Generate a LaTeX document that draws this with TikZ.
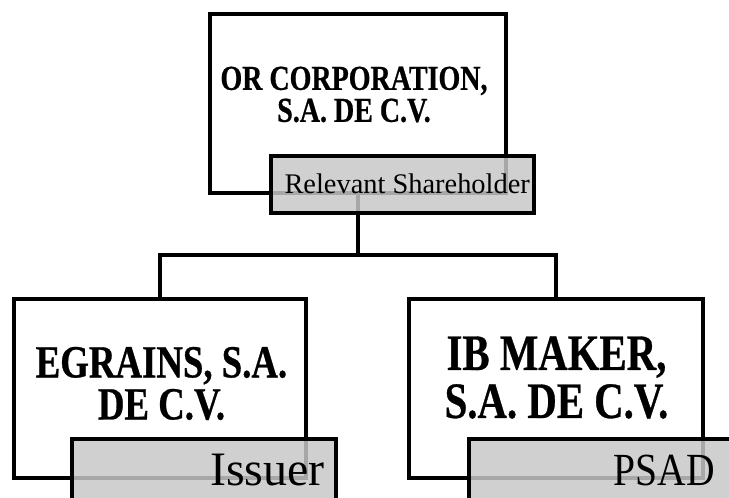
\documentclass[tikz,border=0pt]{standalone}
\usepackage{fontspec}
\newfontfamily\namefont[FakeStretch=0.8,BoldFeatures={FakeBold=0.6}]{Liberation Serif}
\newfontfamily\narrowfont[FakeStretch=0.86]{Liberation Serif}
\newfontfamily\rolefont{Liberation Serif}
\begin{document}
\begin{tikzpicture}[x=1pt,y=-1pt,
  entity/.style={draw=black,line width=4pt,fill=white,inner sep=0pt,line join=miter},
  rolebox/.style={draw=black,line width=4pt,fill=black!22,fill opacity=0.84,draw opacity=1,inner sep=0pt},
  wire/.style={draw=black,line width=4pt,line join=miter},
  nametext/.style={inner sep=0pt,align=center,text=black},
  roletext/.style={inner sep=0pt,anchor=base east,text=black}]
\useasboundingbox (0,0) rectangle (729,498);
\clip (0,0) rectangle (729,498);

% company boxes
\node[entity,minimum width=296pt,minimum height=179pt] (top) at (358,103.5) {};
\node[entity,minimum width=292pt,minimum height=179pt] (left) at (160,388.5) {};
\node[entity,minimum width=294pt,minimum height=179pt] (right) at (556,388.5) {};

% ownership lines
\coordinate (bus) at (358,255);
\draw[wire] (top.south) -- (bus) -| (left.north);
\draw[wire] (bus) -| (right.north);

% redraw the boxes over the line ends
\node[entity,minimum width=292pt,minimum height=179pt] at (left) {};
\node[entity,minimum width=294pt,minimum height=179pt] at (right) {};

% company names
\node[nametext,font=\namefont\bfseries\fontsize{35}{32}\selectfont] (topname) at (354,94.5)
  {OR CORPORATION,\\S.A. DE C.V.};
\node[nametext,font=\namefont\bfseries\fontsize{46}{42}\selectfont] (leftname) at (161.5,383.5)
  {EGRAINS, S.A.\\DE C.V.};
\node[nametext,font=\namefont\bfseries\fontsize{51}{48}\selectfont] (rightname) at (556.5,377.5)
  {IB MAKER,\\S.A. DE C.V.};

% role tags
\node[rolebox,minimum width=263pt,minimum height=57pt] (toprole) at (402.5,184.5) {};
\node[rolebox,minimum width=264pt,minimum height=66pt] (leftrole) at (204,472) {};
\node[rolebox,minimum width=272pt,minimum height=66pt] (rightrole) at (605,472) {};

\node[roletext,font=\rolefont\fontsize{28.4}{30}\selectfont] (toproletext) at (530,193) {Relevant Shareholder};
\node[roletext,font=\rolefont\fontsize{48}{50}\selectfont] (leftroletext) at (325,485) {Issuer};
\node[roletext,font=\narrowfont\fontsize{46}{50}\selectfont] (rightroletext) at (715,485) {PSAD};
\end{tikzpicture}
\end{document}
